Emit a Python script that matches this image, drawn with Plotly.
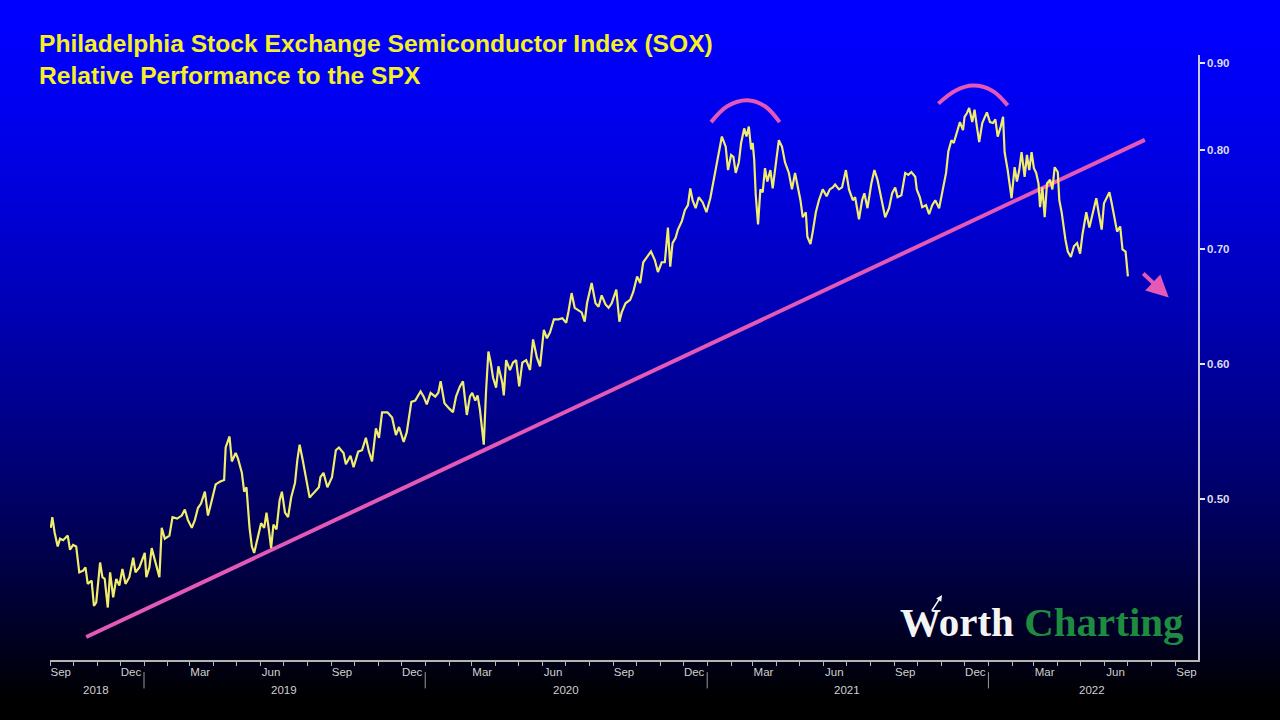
import math
import plotly.graph_objects as go

# ---------------- data ----------------
dates = [
"2018-09-02","2018-09-04","2018-09-07","2018-09-11","2018-09-14","2018-09-18","2018-09-24","2018-09-27",
"2018-10-01","2018-10-05","2018-10-09","2018-10-14","2018-10-17","2018-10-20","2018-10-25","2018-10-28","2018-10-31",
"2018-11-05","2018-11-08","2018-11-11","2018-11-15","2018-11-18","2018-11-22","2018-11-26","2018-11-30",
"2018-12-04","2018-12-08","2018-12-13","2018-12-18","2018-12-21","2018-12-26",
"2019-01-02","2019-01-04","2019-01-08","2019-01-11","2019-01-15","2019-01-21","2019-01-24","2019-01-28",
"2019-02-03","2019-02-07","2019-02-13","2019-02-19","2019-02-23","2019-02-27",
"2019-03-04","2019-03-08","2019-03-12","2019-03-16","2019-03-21","2019-03-25","2019-03-29",
"2019-04-04","2019-04-10","2019-04-15","2019-04-17","2019-04-22","2019-04-25","2019-04-30",
"2019-05-03","2019-05-08","2019-05-11","2019-05-14","2019-05-18","2019-05-21","2019-05-24","2019-05-28",
"2019-06-02","2019-06-06","2019-06-09","2019-06-12","2019-06-15","2019-06-18","2019-06-22","2019-06-26","2019-06-29",
"2019-07-03","2019-07-07","2019-07-11","2019-07-16","2019-07-19","2019-07-22","2019-07-26","2019-07-31",
"2019-08-04","2019-08-09","2019-08-16","2019-08-18","2019-08-22","2019-08-27",
"2019-09-02","2019-09-07","2019-09-11","2019-09-17","2019-09-20","2019-09-26","2019-09-30",
"2019-10-06","2019-10-11","2019-10-16","2019-10-20","2019-10-24","2019-10-29",
"2019-11-02","2019-11-06","2019-11-13","2019-11-19","2019-11-24","2019-11-28",
"2019-12-04","2019-12-08","2019-12-14","2019-12-19","2019-12-26","2019-12-30",
"2020-01-03","2020-01-08","2020-01-14","2020-01-18","2020-01-21","2020-01-26",
"2020-02-01","2020-02-06","2020-02-10","2020-02-15","2020-02-19","2020-02-21","2020-02-24","2020-02-28",
"2020-03-02","2020-03-06","2020-03-09","2020-03-12","2020-03-15","2020-03-17","2020-03-20","2020-03-23","2020-03-26","2020-03-29",
"2020-04-02","2020-04-05","2020-04-10","2020-04-12","2020-04-15","2020-04-20","2020-04-24","2020-04-28",
"2020-05-02","2020-05-06","2020-05-11","2020-05-16","2020-05-20","2020-05-25","2020-05-29",
"2020-06-03","2020-06-07","2020-06-11","2020-06-16","2020-06-22","2020-06-27",
"2020-07-02","2020-07-05","2020-07-09","2020-07-13","2020-07-18","2020-07-22","2020-07-26","2020-07-29",
"2020-08-04","2020-08-09","2020-08-13","2020-08-17","2020-08-22","2020-08-26","2020-08-30",
"2020-09-05","2020-09-09","2020-09-12","2020-09-17","2020-09-23","2020-09-27",
"2020-10-02","2020-10-06","2020-10-10","2020-10-15","2020-10-20","2020-10-25","2020-10-29",
"2020-11-03","2020-11-07","2020-11-11","2020-11-14","2020-11-17","2020-11-21","2020-11-24","2020-11-29",
"2020-12-03","2020-12-07","2020-12-10","2020-12-13","2020-12-17","2020-12-21","2020-12-26","2020-12-31",
"2021-01-05","2021-01-10","2021-01-14","2021-01-17","2021-01-20","2021-01-25","2021-01-28",
"2021-02-01","2021-02-04","2021-02-07","2021-02-11","2021-02-14","2021-02-18","2021-02-21","2021-02-24","2021-02-27",
"2021-03-01","2021-03-03","2021-03-05","2021-03-08","2021-03-11","2021-03-14","2021-03-17","2021-03-20","2021-03-24","2021-03-27",
"2021-04-01","2021-04-04","2021-04-08","2021-04-12","2021-04-17","2021-04-21","2021-04-25","2021-04-29",
"2021-05-02","2021-05-05","2021-05-09","2021-05-11","2021-05-15","2021-05-18","2021-05-22","2021-05-26","2021-05-31",
"2021-06-05","2021-06-09","2021-06-13","2021-06-16","2021-06-21","2021-06-25","2021-06-30",
"2021-07-04","2021-07-09","2021-07-12","2021-07-17","2021-07-21","2021-07-24","2021-07-28",
"2021-08-02","2021-08-06","2021-08-10","2021-08-15","2021-08-20","2021-08-25","2021-08-29",
"2021-09-02","2021-09-05","2021-09-10","2021-09-15","2021-09-19","2021-09-23","2021-09-28","2021-09-30",
"2021-10-04","2021-10-07","2021-10-12","2021-10-16","2021-10-20","2021-10-24","2021-10-29",
"2021-11-02","2021-11-07","2021-11-10","2021-11-14","2021-11-17","2021-11-21","2021-11-25","2021-11-29",
"2021-12-01","2021-12-04","2021-12-07","2021-12-11","2021-12-14","2021-12-17","2021-12-20","2021-12-24","2021-12-27","2021-12-30",
"2022-01-03","2022-01-07","2022-01-10","2022-01-13","2022-01-17","2022-01-20","2022-01-22","2022-01-26","2022-01-31",
"2022-02-04","2022-02-07","2022-02-10","2022-02-13","2022-02-17","2022-02-20","2022-02-23","2022-02-26",
"2022-03-01","2022-03-04","2022-03-07","2022-03-09","2022-03-12","2022-03-15","2022-03-18","2022-03-22","2022-03-25","2022-03-28",
"2022-04-01","2022-04-03","2022-04-06","2022-04-11","2022-04-14","2022-04-18","2022-04-22","2022-04-26","2022-04-30",
"2022-05-03","2022-05-08","2022-05-12","2022-05-17","2022-05-21","2022-05-24","2022-05-28","2022-05-31",
"2022-06-04","2022-06-07","2022-06-10","2022-06-14","2022-06-17","2022-06-21","2022-06-24","2022-06-28","2022-07-01",
]
values = [
0.481,0.488,0.478,0.469,0.474,0.473,0.476,0.467,
0.470,0.469,0.453,0.454,0.456,0.446,0.448,0.433,0.435,
0.459,0.450,0.449,0.432,0.453,0.438,0.449,0.445,
0.455,0.446,0.450,0.462,0.453,0.456,
0.465,0.450,0.456,0.468,0.461,0.450,0.481,0.474,
0.476,0.488,0.487,0.489,0.493,0.486,
0.481,0.486,0.494,0.497,0.505,0.489,0.497,
0.510,0.512,0.513,0.536,0.544,0.526,0.532,
0.528,0.518,0.505,0.508,0.481,0.469,0.465,0.473,
0.484,0.481,0.491,0.480,0.468,0.483,0.480,0.499,0.505,
0.491,0.488,0.501,0.511,0.527,0.538,0.527,0.513,
0.501,0.504,0.508,0.515,0.518,0.508,
0.515,0.534,0.536,0.532,0.524,0.530,0.522,
0.533,0.534,0.543,0.533,0.526,0.550,
0.543,0.562,0.562,0.558,0.545,0.551,
0.540,0.547,0.570,0.571,0.578,0.574,
0.568,0.577,0.574,0.577,0.586,0.569,
0.565,0.562,0.574,0.582,0.586,0.577,0.560,0.574,
0.577,0.571,0.575,0.564,0.547,0.538,0.579,0.610,0.601,0.589,
0.581,0.598,0.585,0.575,0.603,0.595,0.601,0.603,
0.582,0.601,0.603,0.595,0.620,0.605,0.598,
0.628,0.621,0.626,0.637,0.637,0.638,
0.634,0.644,0.660,0.647,0.645,0.643,0.635,0.651,
0.669,0.651,0.648,0.658,0.650,0.647,0.651,
0.663,0.635,0.643,0.651,0.654,0.661,
0.675,0.669,0.688,0.693,0.698,0.690,0.679,
0.688,0.688,0.721,0.684,0.706,0.711,0.719,0.727,
0.738,0.743,0.760,0.748,0.740,0.751,0.746,0.736,
0.750,0.772,0.788,0.803,0.815,0.804,0.779,
0.795,0.793,0.776,0.787,0.808,0.824,0.815,0.826,0.801,
0.808,0.790,0.753,0.724,0.759,0.756,0.781,0.767,0.779,0.760,
0.790,0.811,0.804,0.787,0.776,0.759,0.776,0.761,
0.748,0.731,0.736,0.712,0.705,0.717,0.736,0.748,0.759,
0.752,0.759,0.761,0.764,0.759,0.761,0.779,
0.759,0.748,0.751,0.729,0.748,0.755,0.740,
0.765,0.779,0.769,0.748,0.731,0.740,0.755,
0.761,0.751,0.753,0.776,0.774,0.777,0.772,0.759,
0.751,0.741,0.743,0.734,0.743,0.748,0.740,
0.755,0.776,0.799,0.811,0.808,0.820,0.831,0.822,
0.837,0.841,0.847,0.831,0.845,0.826,0.809,0.830,0.836,0.842,
0.831,0.830,0.834,0.815,0.826,0.837,0.798,0.779,0.750,
0.782,0.767,0.779,0.798,0.772,0.795,0.779,0.798,
0.781,0.776,0.765,0.741,0.761,0.731,0.765,0.769,0.759,0.782,
0.777,0.748,0.736,0.709,0.698,0.693,0.703,0.706,0.696,
0.714,0.736,0.721,0.738,0.750,0.736,0.719,0.745,
0.751,0.756,0.745,0.729,0.717,0.722,0.700,0.698,0.675,
]

trend_dates = ["2018-10-18", "2022-07-23"]
trend_values = [0.4152, 0.8114]

arc1_dates = ["2021-01-06", "2021-01-27", "2021-02-22", "2021-03-17", "2021-04-05"]
arc1_values = [0.831, 0.849, 0.856, 0.849, 0.831]
arc2_dates = ["2021-10-28", "2021-11-19", "2021-12-12", "2022-01-06", "2022-01-26"]
arc2_values = [0.852, 0.867, 0.873, 0.867, 0.850]

arrow_tail_date, arrow_tail_value = "2022-07-19", 0.679
arrow_head_date, arrow_head_value = "2022-08-23", 0.656

y_tick_values = [0.50, 0.60, 0.70, 0.80, 0.90]
y_tick_labels = ["0.50", "0.60", "0.70", "0.80", "0.90"]

month_tick_dates = ["2018-09-15", "2018-12-15", "2019-03-15", "2019-06-15", "2019-09-15",
                    "2019-12-15", "2020-03-15", "2020-06-15", "2020-09-15", "2020-12-15",
                    "2021-03-15", "2021-06-15", "2021-09-15", "2021-12-15", "2022-03-15",
                    "2022-06-15", "2022-09-15"]
month_tick_labels = ["Sep", "Dec", "Mar", "Jun", "Sep", "Dec", "Mar", "Jun", "Sep", "Dec",
                     "Mar", "Jun", "Sep", "Dec", "Mar", "Jun", "Sep"]

year_labels = ["2018", "2019", "2020", "2021", "2022"]
year_label_dates = ["2018-10-31", "2019-07-02", "2020-07-02", "2021-07-02", "2022-05-16"]
year_boundaries = ["2019-01-01", "2020-01-01", "2021-01-01", "2022-01-01"]

x_range = ["2018-09-01", "2022-09-30"]
y_range = [0.4025, 0.9097]

title_text = ("Philadelphia Stock Exchange Semiconductor Index (SOX)<br>"
              "Relative Performance to the SPX")

# ---------------- figure ----------------
W, H = 1280, 720
ML, MR, MT, MB = 50, 82, 55, 60
PW, PH = W - ML - MR, H - MT - MB

PINK = "#E458B6"
YELLOW = "#F0EC6C"

fig = go.Figure()

fig.add_trace(go.Scatter(x=trend_dates, y=trend_values, mode="lines",
                         line=dict(color=PINK, width=4), hoverinfo="skip"))
fig.add_trace(go.Scatter(x=dates, y=values, mode="lines",
                         line=dict(color=YELLOW, width=2.2)))
for ad, av in ((arc1_dates, arc1_values), (arc2_dates, arc2_values)):
    fig.add_trace(go.Scatter(x=ad, y=av, mode="lines",
                             line=dict(color=PINK, width=4, shape="spline"),
                             hoverinfo="skip"))

# gradient background (blue to black)
shapes = []
step = 6
for top in range(0, H, step):
    mid = top + step / 2
    b = 255 * (1 - min(mid / 700.0, 1.0) ** 1.5)
    b = max(0, min(255, int(round(b))))
    y0 = (H - MB - top) / PH
    y1 = (H - MB - top - step - 1) / PH
    shapes.append(dict(type="rect", xref="paper", yref="paper",
                       x0=-ML / PW - 0.01, x1=1 + MR / PW + 0.01, y0=y0, y1=y1,
                       fillcolor=f"rgb(0,0,{b})", line=dict(width=0), layer="below"))

for bd in year_boundaries:
    shapes.append(dict(type="line", xref="x", yref="paper", x0=bd, x1=bd,
                       y0=-0.02, y1=-0.047, line=dict(color="#9A9A9A", width=1)))

annotations = [
    dict(text=title_text, xref="paper", yref="paper", x=-13 / PW, y=1 + 27 / PH,
         xanchor="left", yanchor="top", align="left", showarrow=False,
         font=dict(family="Liberation Sans Narrow, Arial Narrow, Liberation Sans, Arial",
                   size=24.6, color="#F5F025", weight="bold")),
    dict(text="<span style='color:#F4F4F4'>Worth</span> <span style='color:#1E8B41'>Charting</span>",
         xref="paper", yref="paper", x=(898 - ML) / PW, y=(H - MB - 622) / PH,
         xanchor="left", yanchor="middle", showarrow=False,
         font=dict(family="Liberation Serif, DejaVu Serif", size=41, weight="bold")),
    dict(x=(942 - ML) / PW, y=(H - MB - 595) / PH, xref="paper", yref="paper",
         ax=-11, ay=17, showarrow=True, arrowhead=2, arrowsize=0.8, arrowwidth=1.5,
         arrowcolor="#F4F4F4", text=""),
    dict(x=arrow_head_date, y=math.log10(arrow_head_value), xref="x", yref="y",
         ax=arrow_tail_date, ay=math.log10(arrow_tail_value), axref="x", ayref="y",
         showarrow=True, arrowhead=2, arrowsize=1.1, arrowwidth=4, arrowcolor=PINK, text=""),
]
for yl, yd in zip(year_labels, year_label_dates):
    annotations.append(dict(text=yl, x=yd, xref="x", y=-30 / PH, yref="paper",
                            xanchor="center", yanchor="middle", showarrow=False,
                            font=dict(family="Liberation Sans Narrow, Liberation Sans, Arial",
                                      size=11.5, color="#D0D0D0")))

fig.update_layout(
    width=W, height=H,
    margin=dict(l=ML, r=MR, t=MT, b=MB),
    paper_bgcolor="black",
    plot_bgcolor="rgba(0,0,0,0)",
    showlegend=False,
    shapes=shapes,
    annotations=annotations,
    xaxis=dict(type="date", range=x_range, tickmode="array",
               tickvals=month_tick_dates, ticktext=month_tick_labels,
               ticks="", showgrid=False, zeroline=False,
               showline=True, linecolor="#B4B4B4", linewidth=1.5,
               tickfont=dict(family="Liberation Sans Narrow, Liberation Sans, Arial",
                             size=11.5, color="#D0D0D0"),
               minor=dict(ticks="outside", ticklen=4, tickcolor="#B4B4B4", tickwidth=1,
                          tickmode="linear", tick0="2018-09-01", dtick="M1", showgrid=False)),
    yaxis=dict(type="log", side="right",
               range=[math.log10(y_range[0]), math.log10(y_range[1])],
               tickmode="array", tickvals=y_tick_values, ticktext=y_tick_labels,
               ticks="outside", ticklen=5, tickwidth=2, tickcolor="#E6E6F2",
               showline=True, linecolor="#C8C8D6", linewidth=1.5,
               showgrid=False, zeroline=False,
               tickfont=dict(family="Liberation Sans, Arial", size=11.5, color="#DCDCEC",
                             weight="bold")),
)

fig.write_html("out.html", config={"displayModeBar": False},
               post_script="document.body.style.margin='0';")
